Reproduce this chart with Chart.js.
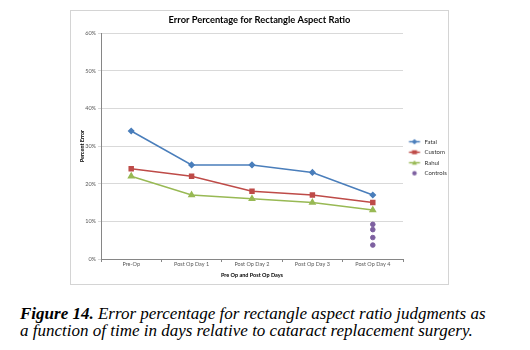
<!DOCTYPE html>
<html lang="en">
<head>
  <meta charset="UTF-8" />
  <title>Error Percentage for Rectangle Aspect Ratio</title>
  <script src="https://cdn.jsdelivr.net/npm/chart.js"></script>
  <style>
    body {
      background: #fff;
      margin: 0;
      width: 530px;
      height: 350px;
      position: relative;
      overflow: hidden;
    }

    .chart-box {
      position: absolute;
      left: 70px;
      top: 10px;
      width: 377px;
      height: 273px;
      border: 1px solid #d4d4d4;
    }

    .caption {
      position: absolute;
      left: 20px;
      top: 305px;
      font-family: "Liberation Serif", serif;
      font-style: italic;
      font-size: 17px;
      line-height: 17px;
      color: #000;
    }
  </style>
</head>
<body>
  <div class="chart-box">
    <canvas id="chart"></canvas>
  </div>
  <div class="caption">
    <b>Figure 14.</b> Error percentage for rectangle aspect ratio judgments as<br>
    a function of time in days relative to cataract replacement surgery.
  </div>

  <script>
    const days = ["Pre-Op", "Post Op Day 1", "Post Op Day 2", "Post Op Day 3", "Post Op Day 4"];
    const fatal = [34, 25, 25, 23, 17];
    const custom = [24, 22, 18, 17, 15];
    const rahul = [22, 17, 16, 15, 13];
    const controlDay = "Post Op Day 4";
    const controls = [9.2, 7.8, 5.7, 3.7];
    const yTicks = [0, 10, 20, 30, 40, 50, 60];

    const FONT = "Lato, 'Liberation Sans', sans-serif";

    // little line+marker pictures for the legend
    function legendIcon(color, style) {
      const c = document.createElement("canvas");
      c.width = 14; c.height = 7;
      const g = c.getContext("2d");
      g.strokeStyle = color;
      g.fillStyle = color;
      g.translate(1.5, 0);
      if (style !== "circle") {
        g.lineWidth = 1.5;
        g.beginPath(); g.moveTo(0, 3.5); g.lineTo(11, 3.5); g.stroke();
      }
      g.beginPath();
      if (style === "rect") g.rect(3, 1.5, 5, 4);
      else if (style === "triangle") { g.moveTo(5.5, 1); g.lineTo(8, 5.5); g.lineTo(3, 5.5); g.closePath(); }
      else if (style === "rectRot") { g.moveTo(5.5, 0.8); g.lineTo(8.2, 3.5); g.lineTo(5.5, 6.2); g.lineTo(2.8, 3.5); g.closePath(); }
      else g.arc(5.5, 3.5, 2.2, 0, Math.PI * 2);
      g.fill();
      return c;
    }

    new Chart(document.getElementById("chart"), {
      type: "line",
      data: {
        labels: days,
        datasets: [
          {
            label: "Fatal",
            data: fatal,
            borderColor: "#4a7ebb",
            backgroundColor: "#4a7ebb",
            borderWidth: 1.5,
            pointStyle: "rectRot",
            pointRadius: 2.5,
            legendIcon: legendIcon("#4a7ebb", "rectRot")
          },
          {
            label: "Custom",
            data: custom,
            borderColor: "#be4b48",
            backgroundColor: "#be4b48",
            borderWidth: 1.5,
            pointStyle: "rect",
            pointRadius: 2.8,
            legendIcon: legendIcon("#be4b48", "rect")
          },
          {
            label: "Rahul",
            data: rahul,
            borderColor: "#98b954",
            backgroundColor: "#98b954",
            borderWidth: 1.5,
            pointStyle: "triangle",
            pointRadius: 3,
            legendIcon: legendIcon("#98b954", "triangle")
          },
          {
            label: "Controls",
            data: controls.map(v => ({ x: controlDay, y: v })),
            borderColor: "#7d60a0",
            backgroundColor: "#7d60a0",
            showLine: false,
            pointStyle: "circle",
            pointRadius: 2.3,
            legendIcon: legendIcon("#7d60a0", "circle")
          }
        ]
      },
      options: {
        responsive: true,
        maintainAspectRatio: false,
        animation: false,
        layout: { padding: { left: 0, right: 0, top: 0, bottom: 0 } },
        scales: {
          x: {
            offset: true,
            grid: {
              offset: true,
              drawOnChartArea: false,
              color: "#868686",
              tickLength: 3
            },
            border: { color: "#868686" },
            ticks: { color: "#595959", font: { family: FONT, size: 5.5 }, padding: -1 },
            title: {
              display: true,
              text: "Pre Op and Post Op Days",
              color: "#000",
              font: { family: FONT, size: 5.5, weight: "bold" },
              padding: { top: 1, bottom: 5 }
            },
            afterFit: s => { s.height = 25; }
          },
          y: {
            min: 0,
            max: 60,
            afterBuildTicks: s => { s.ticks = yTicks.map(v => ({ value: v })); },
            grid: { color: "#d9d9d9", tickLength: 3 },
            border: { color: "#868686" },
            ticks: {
              color: "#595959",
              font: { family: FONT, size: 5.5 },
              padding: 2,
              callback: v => v + "%"
            },
            title: {
              display: true,
              text: "Percent Error",
              color: "#000",
              font: { family: FONT, size: 5.5, weight: "bold" },
              padding: { top: 7.5, bottom: 0 }
            },
            afterFit: s => { s.width = 30; }
          }
        },
        plugins: {
          title: {
            display: true,
            text: "Error Percentage for Rectangle Aspect Ratio",
            color: "#000",
            font: { family: FONT, size: 9.3, weight: "bold" },
            padding: { top: 3, bottom: 8 }
          },
          legend: {
            position: "right",
            maxWidth: 45,
            title: {
              display: true,
              text: " ",
              font: { size: 10 },
              padding: { top: 4, bottom: 4 }
            },
            labels: {
              color: "#333",
              font: { family: FONT, size: 6 },
              usePointStyle: true,
              pointStyleWidth: 14,
              padding: 4.5,
              generateLabels: chart => chart.data.datasets.map((ds, i) => ({
                text: ds.label,
                pointStyle: ds.legendIcon,
                fillStyle: ds.backgroundColor,
                strokeStyle: ds.borderColor,
                fontColor: "#333",
                lineWidth: 0,
                datasetIndex: i
              }))
            }
          },
          tooltip: { enabled: false }
        }
      }
    });
  </script>
</body>
</html>
